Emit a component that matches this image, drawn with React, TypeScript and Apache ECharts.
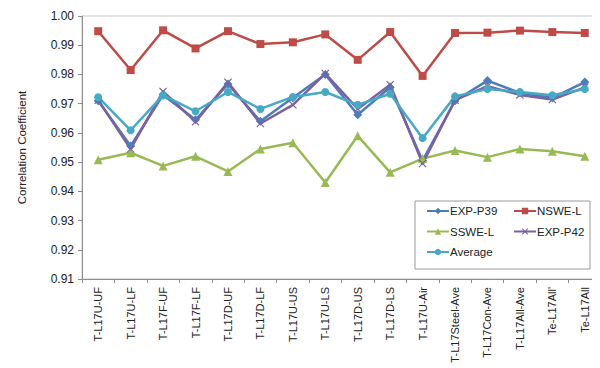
import React, { useEffect, useRef } from "react";
import * as echarts from "echarts";

const categories = [
  "T-L17U-UF", "T-L17U-LF", "T-L17F-UF", "T-L17F-LF", "T-L17D-UF", "T-L17D-LF",
  "T-L17U-US", "T-L17U-LS", "T-L17D-US", "T-L17D-LS", "T-L17U-Air",
  "T-L17Steel-Ave", "T-L17Con-Ave", "T-L17All-Ave", "Te-L17All'", "Te-L17All",
];

const expP39 = [0.9710, 0.9555, 0.9730, 0.9645, 0.9767, 0.9640, 0.9720, 0.9800, 0.9662, 0.9756, 0.9505, 0.9710, 0.9779, 0.9737, 0.9720, 0.9774];
const nsweL = [0.9948, 0.9815, 0.9951, 0.9889, 0.9948, 0.9904, 0.9910, 0.9937, 0.9850, 0.9945, 0.9795, 0.9942, 0.9943, 0.9950, 0.9945, 0.9942];
const ssweL = [0.9508, 0.9532, 0.9487, 0.9520, 0.9468, 0.9545, 0.9566, 0.9430, 0.9590, 0.9465, 0.9512, 0.9540, 0.9517, 0.9545, 0.9537, 0.9520];
const expP42 = [0.9712, 0.9545, 0.9742, 0.9638, 0.9773, 0.9632, 0.9696, 0.9803, 0.9682, 0.9765, 0.9495, 0.9712, 0.9760, 0.9730, 0.9714, 0.9756];
const average = [0.9722, 0.9609, 0.9729, 0.9674, 0.9740, 0.9682, 0.9723, 0.9740, 0.9696, 0.9734, 0.9582, 0.9725, 0.9750, 0.9740, 0.9729, 0.9750];

const yMin = 0.91;
const yMax = 1.0;
const yStep = 0.01;

const X_PATH = "path://M1,0L5,4L9,0L10,1L6,5L10,9L9,10L5,6L1,10L0,9L4,5L0,1Z";

export default function App() {
  const ref = useRef<HTMLDivElement>(null);
  useEffect(() => {
    if (!ref.current) return;
    const chart = echarts.init(ref.current, null, { renderer: "svg" });
    const font = "'Liberation Sans', Arial, sans-serif";
    const mk = (name: string, data: number[], color: string, symbol: string, size: number) => ({
      name,
      type: "line",
      data,
      symbol,
      symbolSize: size,
      lineStyle: { color, width: 2.5 },
      itemStyle: { color },
      emphasis: { disabled: true },
    });
    const legendCommon = {
      z: 10, orient: "vertical", top: 197, padding: 0, itemGap: 8.5, itemWidth: 22, itemHeight: 8,
      textStyle: { fontSize: 11.5, color: "#222", fontFamily: font, padding: [0, 0, 0, -4] },
    };
    chart.setOption({
      animation: false,
      textStyle: { fontFamily: font },
      grid: {
        left: 62, right: 7, top: 8, bottom: 97,
        show: true, borderColor: "#c8c8c8", borderWidth: 1, backgroundColor: "transparent",
      },
      graphic: [
        {
          type: "rect", z: 5,
          shape: { x: 407, y: 193, width: 175, height: 68 },
          style: { fill: "#fff", stroke: "#9a9a9a", lineWidth: 1 },
        },
      ],
      legend: [
        { ...legendCommon, left: 418, data: ["EXP-P39", "SSWE-L", "Average"] },
        { ...legendCommon, left: 505, data: ["NSWE-L", "EXP-P42"] },
      ],
      xAxis: {
        type: "category",
        data: categories,
        boundaryGap: true,
        axisLine: { lineStyle: { color: "#8c8c8c", width: 1 } },
        axisTick: { show: true, length: 4, lineStyle: { color: "#8c8c8c" } },
        axisLabel: { rotate: 90, fontSize: 11, color: "#222", margin: 8, interval: 0, fontFamily: font },
        splitLine: { show: false },
      },
      yAxis: {
        type: "value",
        min: yMin, max: yMax, interval: yStep,
        name: "Correlation Coefficient",
        nameLocation: "middle",
        nameGap: 54,
        nameTextStyle: { fontSize: 11.5, color: "#222", fontFamily: font },
        axisLine: { show: true, lineStyle: { color: "#8c8c8c", width: 1 } },
        axisTick: { show: true, length: 4, lineStyle: { color: "#8c8c8c" } },
        axisLabel: { fontSize: 12, color: "#222", margin: 8, formatter: (v: number) => v.toFixed(2), fontFamily: font },
        splitLine: { show: false },
      },
      series: [
        mk("EXP-P39", expP39, "#4a7ebb", "diamond", 9),
        mk("NSWE-L", nsweL, "#be4b48", "rect", 8),
        mk("SSWE-L", ssweL, "#98b954", "triangle", 9),
        mk("EXP-P42", expP42, "#7d60a0", X_PATH, 8),
        mk("Average", average, "#46aac5", "circle", 8),
      ],
    });
    return () => chart.dispose();
  }, []);
  return <div ref={ref} style={{ width: 600, height: 368 }} />;
}
